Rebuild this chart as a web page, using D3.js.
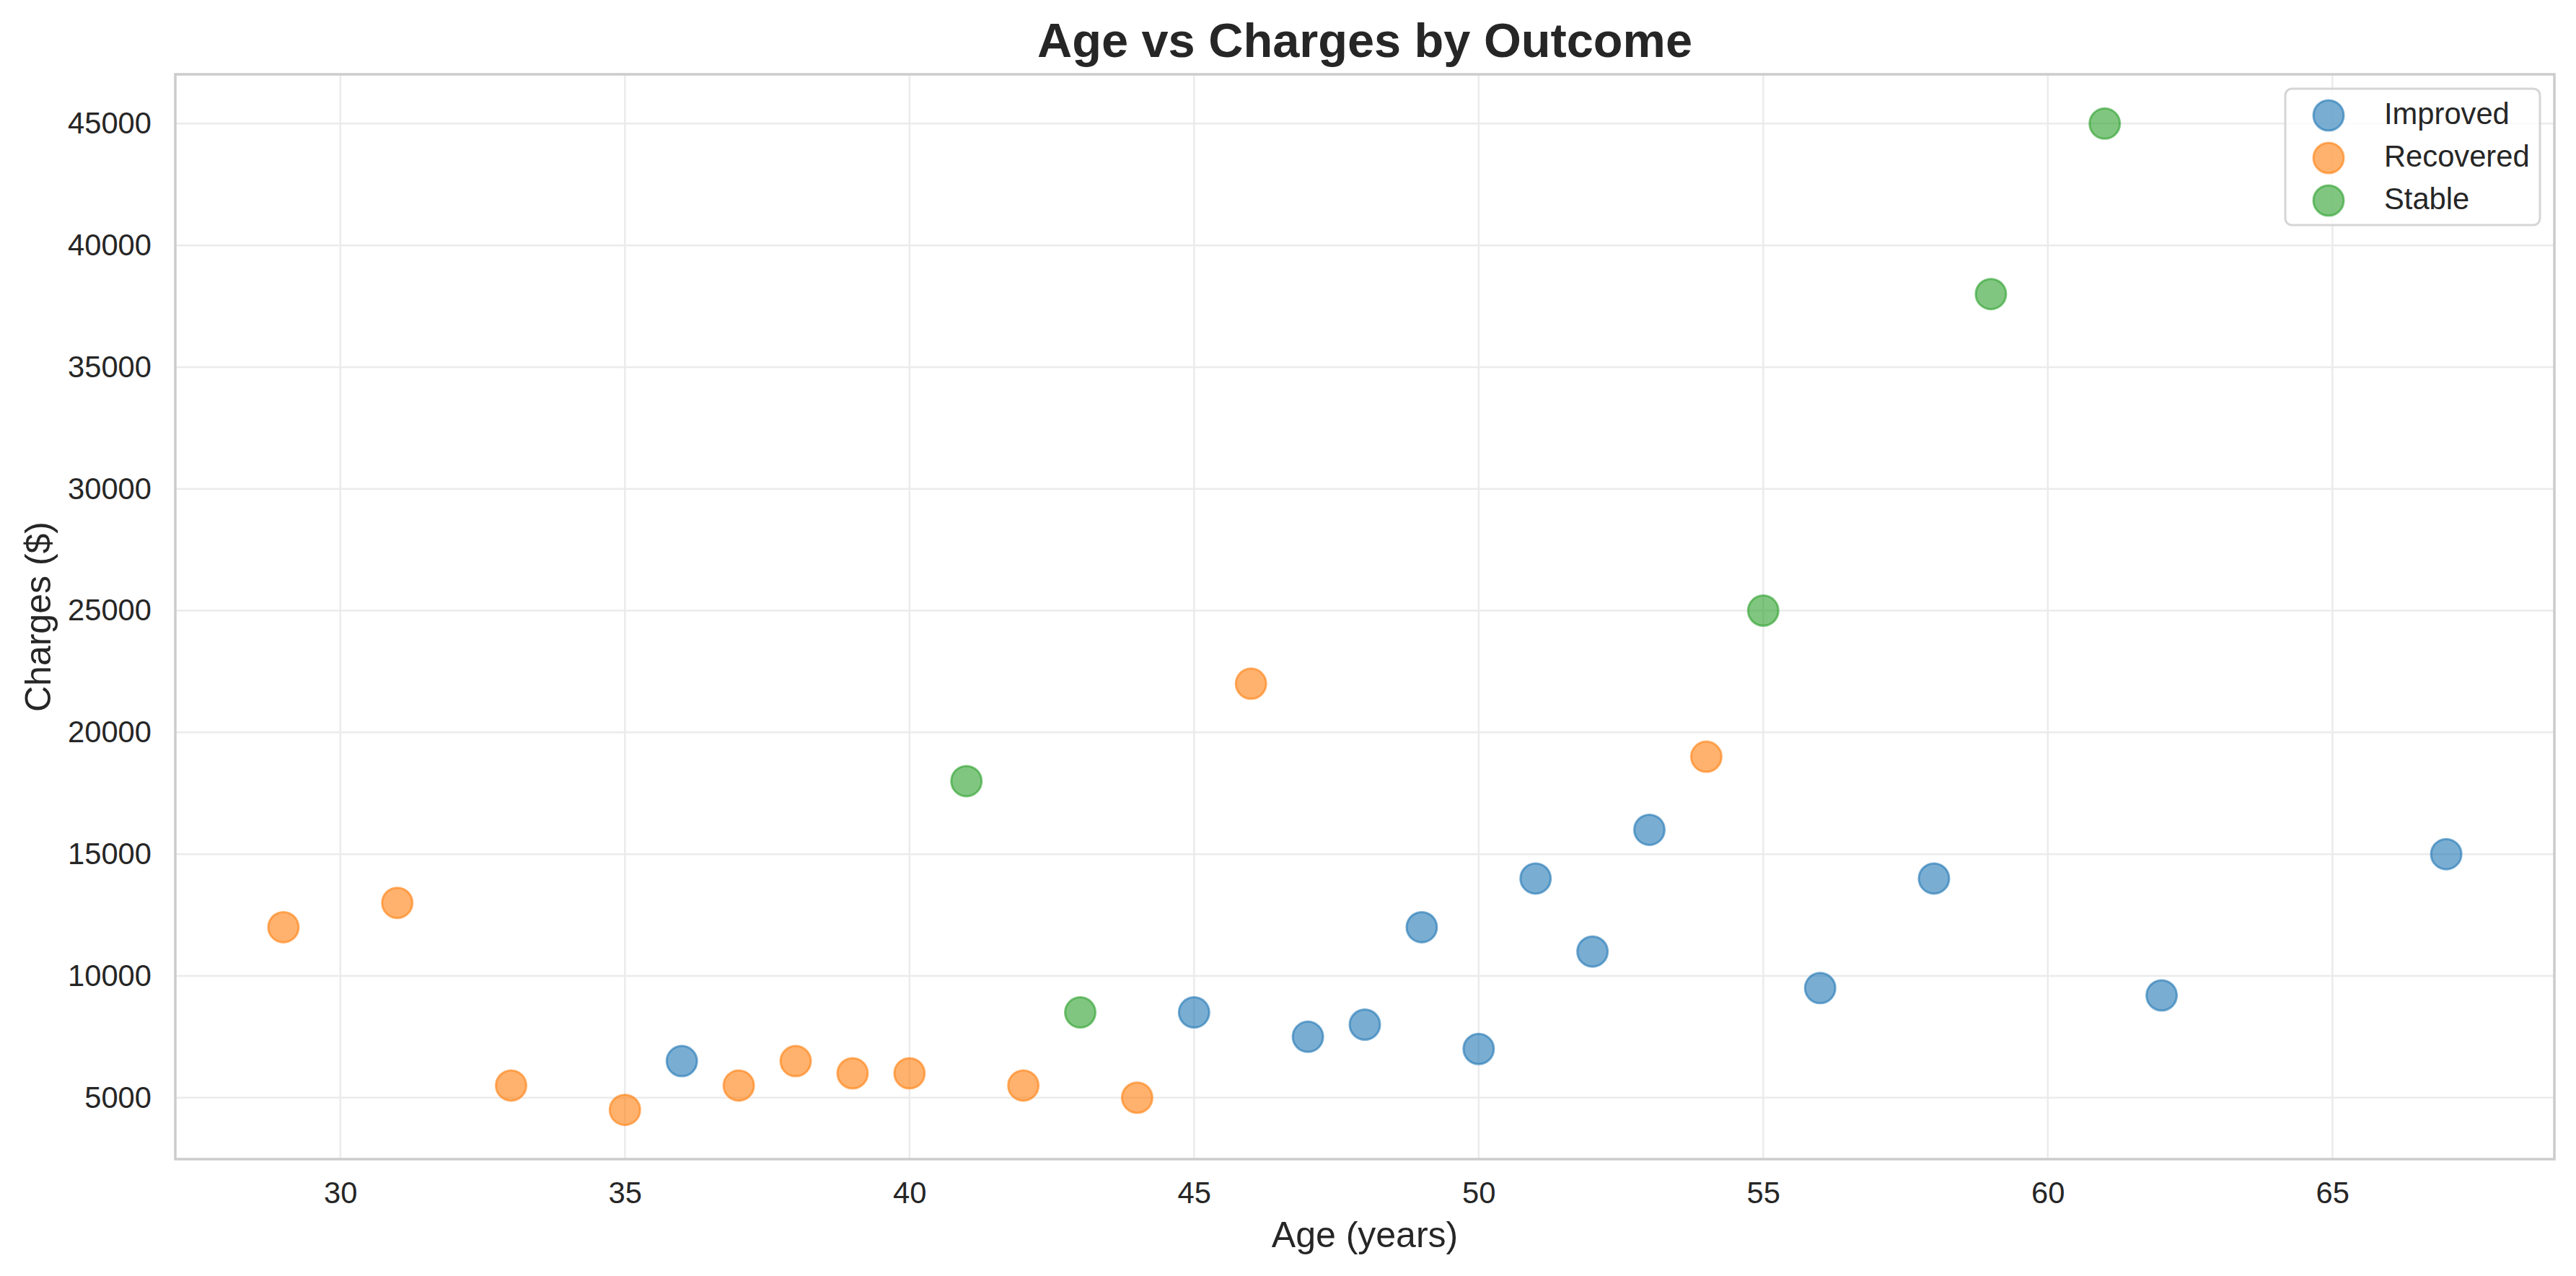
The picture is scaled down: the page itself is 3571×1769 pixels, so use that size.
<!DOCTYPE html>
<html>
<head>
<meta charset="utf-8">
<script src="https://cdn.jsdelivr.net/npm/d3@7"></script>
<style>
  html, body { margin: 0; padding: 0; background: #fff; }
  text { font-family: "Liberation Sans", Arial, sans-serif; fill: #262626; }
</style>
</head>
<body>
<div id="chart"></div>
<script>
// data
const outcomes = ['Improved', 'Recovered', 'Stable']
const colours = ['#1f77b4', '#ff7f0e', '#2ca02c']

const improvedAge = [36, 45, 47, 48, 49, 50, 51, 52, 53, 56, 58, 62, 67]
const improvedCharges = [6500, 8500, 7500, 8000, 12000, 7000, 14000, 11000, 16000, 9500, 14000, 9200, 15000]

const recoveredAge = [29, 31, 33, 35, 37, 38, 39, 40, 42, 44, 46, 54]
const recoveredCharges = [12000, 13000, 5500, 4500, 5500, 6500, 6000, 6000, 5500, 5000, 22000, 19000]

const stableAge = [41, 43, 55, 59, 61]
const stableCharges = [18000, 8500, 25000, 38000, 45000]

const xTicks = [30, 35, 40, 45, 50, 55, 60, 65]
const yTicks = [5000, 10000, 15000, 20000, 25000, 30000, 35000, 40000, 45000]

const series = [
  { name: outcomes[0], ages: improvedAge, charges: improvedCharges },
  { name: outcomes[1], ages: recoveredAge, charges: recoveredCharges },
  { name: outcomes[2], ages: stableAge, charges: stableCharges }
]

const width = 3571
const height = 1769
const margin = { top: 103, right: 30, bottom: 162, left: 243 }
const plotW = width - margin.left - margin.right
const plotH = height - margin.top - margin.bottom

const colour = d3.scaleOrdinal().domain(outcomes).range(colours)

// matplotlib style 5% padding around the data
const allAges = series.flatMap(s => s.ages)
const allCharges = series.flatMap(s => s.charges)
const [xMin, xMax] = d3.extent(allAges)
const [yMin, yMax] = d3.extent(allCharges)
const xPad = (xMax - xMin) * 0.05
const yPad = (yMax - yMin) * 0.05

const x = d3.scaleLinear().domain([xMin - xPad, xMax + xPad]).range([0, plotW])
const y = d3.scaleLinear().domain([yMin - yPad, yMax + yPad]).range([plotH, 0])

const svg = d3.select('#chart')
  .append('svg')
  .attr('width', width)
  .attr('height', height)
  .attr('viewBox', [0, 0, width, height])

const g = svg.append('g').attr('transform', `translate(${margin.left},${margin.top})`)

// grid
g.append('g')
  .selectAll('line')
  .data(xTicks)
  .join('line')
  .attr('x1', d => x(d)).attr('x2', d => x(d))
  .attr('y1', 0).attr('y2', plotH)
  .attr('stroke', '#ebebeb')
  .attr('stroke-width', 2.5)

g.append('g')
  .selectAll('line')
  .data(yTicks)
  .join('line')
  .attr('y1', d => y(d)).attr('y2', d => y(d))
  .attr('x1', 0).attr('x2', plotW)
  .attr('stroke', '#ebebeb')
  .attr('stroke-width', 2.5)

// spines
g.append('rect')
  .attr('width', plotW)
  .attr('height', plotH)
  .attr('fill', 'none')
  .attr('stroke', '#cccccc')
  .attr('stroke-width', 3.5)

// axes
const xAxis = g.append('g')
  .attr('transform', `translate(0,${plotH})`)
  .call(d3.axisBottom(x).tickValues(xTicks).tickSize(0).tickPadding(31).tickFormat(d3.format('d')))
xAxis.select('.domain').remove()
xAxis.selectAll('text').attr('font-size', 41.7).attr('fill', '#262626')
  .style('font-family', '"Liberation Sans", Arial, sans-serif')

const yAxis = g.append('g')
  .call(d3.axisLeft(y).tickValues(yTicks).tickSize(0).tickPadding(33).tickFormat(d3.format('d')))
yAxis.select('.domain').remove()
yAxis.selectAll('text').attr('font-size', 41.7).attr('fill', '#262626')
  .style('font-family', '"Liberation Sans", Arial, sans-serif')

// points
series.forEach(s => {
  g.append('g')
    .selectAll('circle')
    .data(s.ages.map((a, i) => ({ age: a, charges: s.charges[i] })))
    .join('circle')
    .attr('cx', d => x(d.age))
    .attr('cy', d => y(d.charges))
    .attr('r', 21)
    .attr('fill', colour(s.name))
    .attr('fill-opacity', 0.6)
    .attr('stroke', colour(s.name))
    .attr('stroke-opacity', 0.6)
    .attr('stroke-width', 3)
})

// title and labels
svg.append('text')
  .attr('x', margin.left + plotW / 2)
  .attr('y', 79)
  .attr('text-anchor', 'middle')
  .attr('font-size', 66.7)
  .attr('font-weight', 'bold')
  .text('Age vs Charges by Outcome')

svg.append('text')
  .attr('x', margin.left + plotW / 2)
  .attr('y', 1729)
  .attr('text-anchor', 'middle')
  .attr('font-size', 50)
  .text('Age (years)')

svg.append('text')
  .attr('transform', `translate(70,${margin.top + plotH / 2}) rotate(-90)`)
  .attr('text-anchor', 'middle')
  .attr('font-size', 50)
  .text('Charges ($)')

// legend
const legend = svg.append('g').attr('transform', 'translate(3168,123)')
legend.append('rect')
  .attr('width', 353)
  .attr('height', 189)
  .attr('rx', 9)
  .attr('fill', '#fff')
  .attr('fill-opacity', 0.8)
  .attr('stroke', '#d5d5d5')
  .attr('stroke-width', 3)

const item = legend.selectAll('.item')
  .data(outcomes)
  .join('g')
  .attr('class', 'item')
  .attr('transform', (d, i) => `translate(0,${37 + i * 59})`)

item.append('circle')
  .attr('cx', 60)
  .attr('cy', 0)
  .attr('r', 21)
  .attr('fill', d => colour(d))
  .attr('fill-opacity', 0.6)
  .attr('stroke', d => colour(d))
  .attr('stroke-opacity', 0.6)
  .attr('stroke-width', 3)

item.append('text')
  .attr('x', 137)
  .attr('y', 12)
  .attr('font-size', 41.7)
  .text(d => d)
</script>
</body>
</html>
